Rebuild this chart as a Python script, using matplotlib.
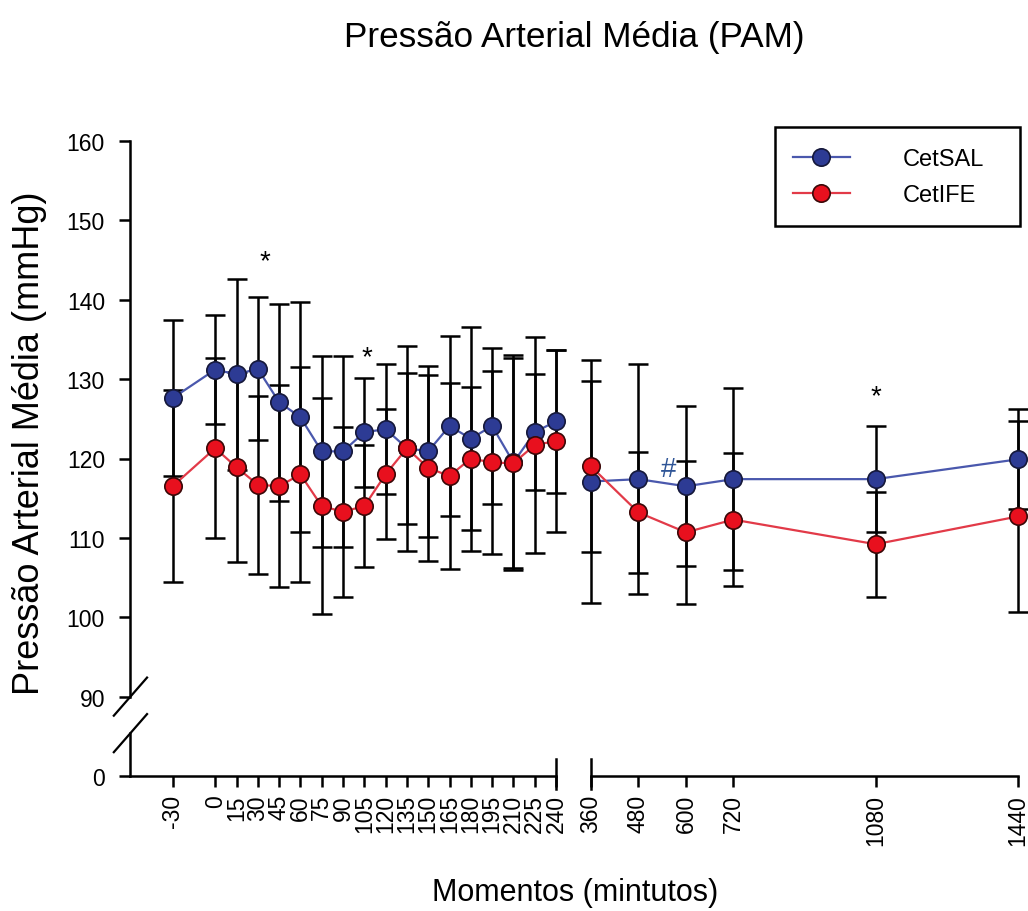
import matplotlib
matplotlib.use("Agg")
import matplotlib.pyplot as plt
from matplotlib.patches import Rectangle
import numpy as np

plt.rcParams['font.family'] = ['Liberation Sans', 'DejaVu Sans']

# tempos (min) e valores
momentos = [-30, 0, 15, 30, 45, 60, 75, 90, 105, 120, 135, 150, 165, 180,
            195, 210, 225, 240, 360, 480, 600, 720, 1080, 1440]
cetsal_media = [127.6, 131.2, 130.6, 131.3, 127.1, 125.2, 120.9, 120.9, 123.3,
                123.7, 121.3, 120.9, 124.1, 122.5, 124.1, 119.5, 123.3, 124.7,
                117.1, 117.4, 116.5, 117.4, 117.4, 119.9]
cetsal_dp = [9.8, 6.9, 12.0, 9.0, 12.4, 14.5, 12.0, 12.0, 6.9, 8.2, 9.5, 10.8,
             11.3, 14.1, 9.8, 13.5, 7.3, 9.0, 15.3, 14.5, 10.1, 11.5, 6.7, 6.3]
cetife_media = [116.5, 121.3, 118.9, 116.7, 116.5, 118.0, 114.0, 113.3, 114.0,
                118.0, 121.3, 118.8, 117.8, 120.0, 119.5, 119.4, 121.7, 122.2,
                119.0, 113.2, 110.7, 112.3, 109.2, 112.7]
cetife_dp = [12.1, 11.3, 12.0, 11.2, 12.7, 13.5, 13.6, 10.7, 7.7, 8.2, 12.9,
             11.7, 11.7, 9.0, 11.5, 13.2, 13.6, 11.5, 10.8, 7.6, 9.0, 8.4, 6.6, 12.0]

ticks_esq = [-30, 0, 15, 30, 45, 60, 75, 90, 105, 120, 135, 150, 165, 180,
             195, 210, 225, 240]
ticks_dir = [360, 480, 600, 720, 1080, 1440]
yticks = [80, 90, 100, 110, 120, 130, 140, 150, 160]
ytick_labels = ['0', '90', '100', '110', '120', '130', '140', '150', '160']

# anotacoes: (texto, painel, x, y, cor)
anotacoes = [('*', 0, 35, 144.8, 'black'),
             ('*', 0, 107, 132.8, 'black'),
             ('#', 1, 555, 118.7, '#2f5597'),
             ('*', 1, 1080, 127.9, 'black')]

azul, azul_linha = '#2d3b94', '#4a58ad'
vermelho, vermelho_linha = '#e8101e', '#e23a48'

t = np.array(momentos)
sal = np.array(cetsal_media)
sal_dp = np.array(cetsal_dp)
ife = np.array(cetife_media)
ife_dp = np.array(cetife_dp)

fig = plt.figure(figsize=(10.28, 9.12), dpi=100)
ax1 = fig.add_axes([130/1028, 1-777/912, 426/1028, 635/912])
ax2 = fig.add_axes([591/1028, 1-777/912, 427/1028, 635/912])
axes = [ax1, ax2]

partes = [(ax1, t <= 240, (-60, 240), ticks_esq),
          (ax2, t > 240, (360, 1440), ticks_dir)]

handles = []
for ax, m, lim, tk in partes:
    for media, dp in ((sal, sal_dp), (ife, ife_dp)):
        eb = ax.errorbar(t[m], media[m], yerr=dp[m], fmt='none', ecolor='black',
                         elinewidth=1.8, capsize=7.5, capthick=1.8, zorder=1)
        for art in list(eb[1]) + list(eb[2]):
            art.set_clip_on(False)
    l1, = ax.plot(t[m], sal[m], '-o', color=azul_linha, lw=1.6, markersize=12.5,
                  markerfacecolor=azul, markeredgecolor='#15183a', markeredgewidth=1.2,
                  zorder=3, clip_on=False)
    l2, = ax.plot(t[m], ife[m], '-o', color=vermelho_linha, lw=1.6, markersize=12.5,
                  markerfacecolor=vermelho, markeredgecolor='#3a0808', markeredgewidth=1.2,
                  zorder=4, clip_on=False)
    handles = [l1, l2]
    ax.set_xlim(*lim)
    ax.set_ylim(80, 160)
    ax.set_xticks(tk)
    ax.set_xticklabels([str(v) for v in tk], rotation=90, fontsize=16.5)
    ax.spines['top'].set_visible(False)
    ax.spines['right'].set_visible(False)
    ax.spines['bottom'].set_linewidth(1.8)
    ax.tick_params(axis='x', direction='out', length=8, width=1.8, pad=5)
    ax.patch.set_alpha(0)

ax1.set_yticks(yticks)
ax1.set_yticklabels(ytick_labels, fontsize=16.5)
ax1.tick_params(axis='y', direction='out', length=8, width=1.8, pad=10)
ax1.spines['left'].set_linewidth(1.8)
ax1.spines['left'].set_bounds(90, 160)
ax2.spines['left'].set_visible(False)
ax2.set_yticks([])

# quebra do eixo y
ty = ax1.get_yaxis_transform()
ax1.plot([0, 0], [80, 85.4], transform=ty, color='black', lw=1.8, clip_on=False)
for yc in (90.0, 85.4):
    ax1.plot([-0.038, 0.040], [yc - 2.4, yc + 2.4], transform=ty,
             color='black', lw=1.6, clip_on=False)

# quebra do eixo x
ax1.plot([1, 1], [-0.02, 0.027], transform=ax1.transAxes, color='black',
         lw=1.8, clip_on=False)
ax2.plot([0, 0], [-0.02, 0.027], transform=ax2.transAxes, color='black',
         lw=1.8, clip_on=False)

for txt, p, x, y, c in anotacoes:
    axes[p].text(x, y, txt, color=c, fontsize=20, ha='center', va='center')

# legenda
fig.patches.append(Rectangle((775/1028, 1-227/912), 245/1028, 99/912,
                             transform=fig.transFigure, fill=False,
                             edgecolor='black', lw=1.8))
fig.legend(handles=handles, labels=['CetSAL', 'CetIFE'],
           loc='upper left', bbox_to_anchor=(793/1028, 1-149/912),
           frameon=False, fontsize=17, handlelength=2.4, handletextpad=2.25,
           borderpad=0, borderaxespad=0, labelspacing=0.6)

fig.text(574/1028, 1-38/912, 'Pressão Arterial Média (PAM)', fontsize=25.3,
         ha='center', va='center')
fig.text(30/1028, 1-443/912, 'Pressão Arterial Média (mmHg)', fontsize=26,
         rotation=90, ha='center', va='center')
fig.text(575/1028, 1-893/912, 'Momentos (mintutos)', fontsize=22,
         ha='center', va='center')

fig.savefig('out.png', dpi=100)
